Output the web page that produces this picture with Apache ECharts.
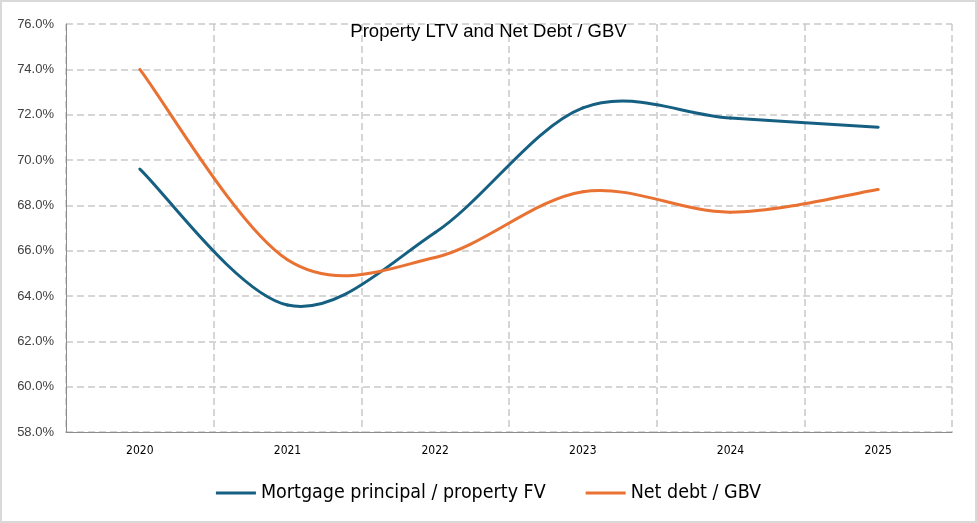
<!DOCTYPE html>
<html>
<head>
<meta charset="utf-8">
<script src="https://cdn.jsdelivr.net/npm/echarts@6/dist/echarts.min.js"></script>
<style>
  html, body { margin: 0; padding: 0; background: #fff; }
  #chart { width: 977px; height: 523px; }
</style>
</head>
<body>
<div id="chart"></div>
<script>
  var years = ['2020', '2021', '2022', '2023', '2024', '2025'];
  var mortgageLtv = [69.6, 63.6, 66.8, 72.3, 71.85, 71.45];
  var netDebtGbv = [74.0, 65.6, 65.7, 68.6, 67.7, 68.7];

  var gridColor = '#c9c9c9';
  var condensed = '"DejaVu Sans Condensed", "Liberation Sans", sans-serif';

  // spline like the office one: catmull-rom, control points at 1/6 of the chord
  var makeSpline = function(values, color) {
    return function(params, api) {
      var i = params.dataIndex;
      var n = values.length;
      if (i >= n - 1) {
        return null;
      }
      var pt = function(k) {
        k = Math.max(0, Math.min(n - 1, k));
        return api.coord([k, values[k]]);
      };
      var p0 = pt(i - 1), p1 = pt(i), p2 = pt(i + 1), p3 = pt(i + 2);
      return {
        type: 'bezierCurve',
        shape: {
          x1: p1[0], y1: p1[1],
          cpx1: p1[0] + (p2[0] - p0[0]) / 6,
          cpy1: p1[1] + (p2[1] - p0[1]) / 6,
          cpx2: p2[0] - (p3[0] - p1[0]) / 6,
          cpy2: p2[1] - (p3[1] - p1[1]) / 6,
          x2: p2[0], y2: p2[1]
        },
        style: { fill: 'none', stroke: color, lineWidth: 3, lineCap: 'round' }
      };
    };
  };

  var myChart = echarts.init(document.getElementById('chart'));
  var option = {
    backgroundColor: '#fff',
    animation: false,
    title: {
      text: 'Property LTV and Net Debt / GBV',
      left: 'center',
      top: 17,
      textStyle: {
        fontFamily: 'Liberation Sans',
        fontSize: 18.5,
        fontWeight: 'normal',
        color: '#000'
      }
    },
    graphic: [{
      type: 'rect',
      shape: { x: 1, y: 1, width: 975, height: 521 },
      style: { fill: 'none', stroke: '#d9d9d9', lineWidth: 2 },
      silent: true
    }],
    legend: {
      top: 478,
      left: 'center',
      itemWidth: 40,
      itemHeight: 3,
      itemGap: 40,
      textStyle: {
        fontFamily: condensed,
        fontSize: 19.5,
        color: '#000'
      },
      data: [
        { name: 'Mortgage principal / property FV', icon: 'rect' },
        { name: 'Net debt / GBV', icon: 'rect' }
      ]
    },
    grid: {
      left: 66,
      right: 25,
      top: 24,
      bottom: 91
    },
    xAxis: {
      type: 'category',
      data: years,
      boundaryGap: true,
      axisLine: { lineStyle: { color: '#8c8c8c', width: 1 } },
      axisTick: { show: false },
      axisLabel: {
        margin: 13,
        fontFamily: condensed,
        fontSize: 12,
        color: '#000'
      },
      splitLine: {
        show: true,
        lineStyle: { color: gridColor, type: [7, 4], width: 1.5 }
      }
    },
    yAxis: {
      type: 'value',
      min: 58,
      max: 76,
      interval: 2,
      axisLine: { show: true, lineStyle: { color: '#8c8c8c', width: 1 } },
      axisTick: { show: false },
      axisLabel: {
        margin: 12,
        fontFamily: 'Liberation Sans',
        fontSize: 13,
        color: '#404040',
        formatter: function(v) {
          return v.toFixed(1) + '%';
        }
      },
      splitLine: {
        show: true,
        lineStyle: { color: gridColor, type: [7, 4], width: 1.5 }
      }
    },
    series: [{
      name: 'Mortgage principal / property FV',
      type: 'custom',
      renderItem: makeSpline(mortgageLtv, '#156082'),
      data: mortgageLtv.map(function(v, i) { return [i, v]; }),
      encode: { x: 0, y: 1 },
      itemStyle: { color: '#156082' }
    }, {
      name: 'Net debt / GBV',
      type: 'custom',
      renderItem: makeSpline(netDebtGbv, '#e97132'),
      data: netDebtGbv.map(function(v, i) { return [i, v]; }),
      encode: { x: 0, y: 1 },
      itemStyle: { color: '#e97132' }
    }]
  };
  myChart.setOption(option);
</script>
</body>
</html>
